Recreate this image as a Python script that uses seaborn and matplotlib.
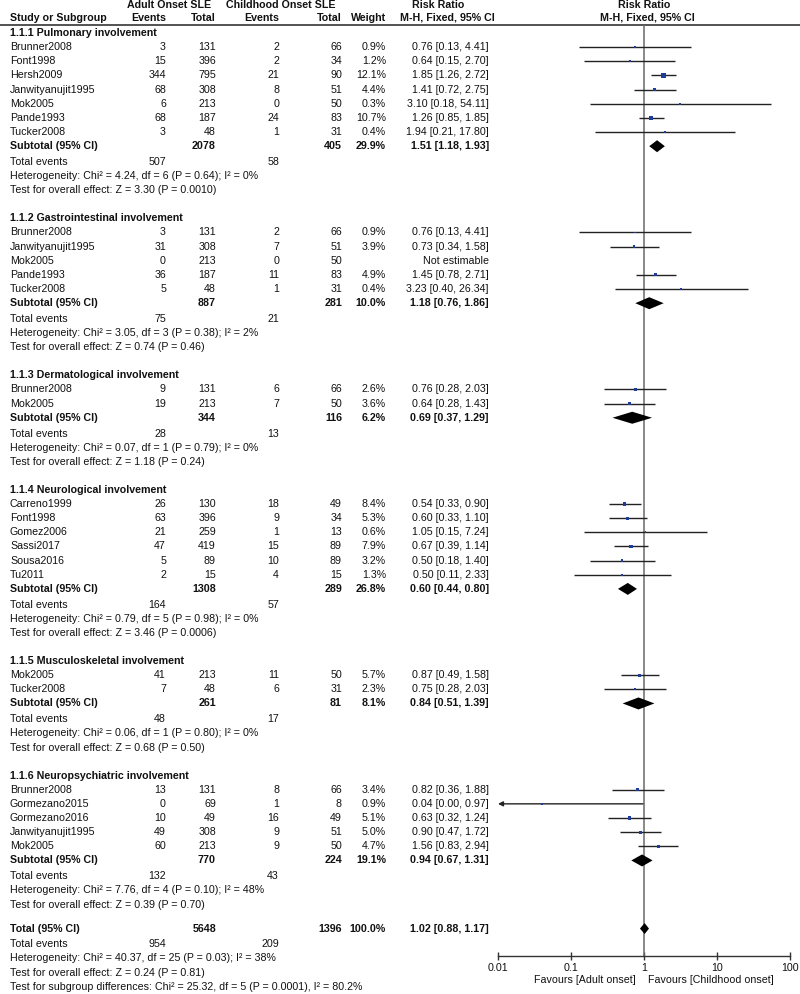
import numpy as np
import pandas as pd
import matplotlib
matplotlib.use("Agg")
import matplotlib.pyplot as plt
import seaborn as sns

# ---------------- data ----------------
group_titles = [
    "1.1.1 Pulmonary involvement",
    "1.1.2 Gastrointestinal involvement",
    "1.1.3 Dermatological involvement",
    "1.1.4 Neurological involvement",
    "1.1.5 Musculoskeletal involvement",
    "1.1.6 Neuropsychiatric involvement",
]
group_studies = [
    ["Brunner2008", "Font1998", "Hersh2009", "Janwityanujit1995", "Mok2005", "Pande1993", "Tucker2008"],
    ["Brunner2008", "Janwityanujit1995", "Mok2005", "Pande1993", "Tucker2008"],
    ["Brunner2008", "Mok2005"],
    ["Carreno1999", "Font1998", "Gomez2006", "Sassi2017", "Sousa2016", "Tu2011"],
    ["Mok2005", "Tucker2008"],
    ["Brunner2008", "Gormezano2015", "Gormezano2016", "Janwityanujit1995", "Mok2005"],
]
group_ev_adult = [[3, 15, 344, 68, 6, 68, 3], [3, 31, 0, 36, 5], [9, 19],
                  [26, 63, 21, 47, 5, 2], [41, 7], [13, 0, 10, 49, 60]]
group_tot_adult = [[131, 396, 795, 308, 213, 187, 48], [131, 308, 213, 187, 48], [131, 213],
                   [130, 396, 259, 419, 89, 15], [213, 48], [131, 69, 49, 308, 213]]
group_ev_child = [[2, 2, 21, 8, 0, 24, 1], [2, 7, 0, 11, 1], [6, 7],
                  [18, 9, 1, 15, 10, 4], [11, 6], [8, 1, 16, 9, 9]]
group_tot_child = [[66, 34, 90, 51, 50, 83, 31], [66, 51, 50, 83, 31], [66, 50],
                   [49, 34, 13, 89, 89, 15], [50, 31], [66, 8, 49, 51, 50]]
group_weight = [[0.9, 1.2, 12.1, 4.4, 0.3, 10.7, 0.4], [0.9, 3.9, np.nan, 4.9, 0.4], [2.6, 3.6],
                [8.4, 5.3, 0.6, 7.9, 3.2, 1.3], [5.7, 2.3], [3.4, 0.9, 5.1, 5.0, 4.7]]
group_rr = [[0.76, 0.64, 1.85, 1.41, 3.10, 1.26, 1.94], [0.76, 0.73, np.nan, 1.45, 3.23], [0.76, 0.64],
            [0.54, 0.60, 1.05, 0.67, 0.50, 0.50], [0.87, 0.75], [0.82, 0.04, 0.63, 0.90, 1.56]]
group_lo = [[0.13, 0.15, 1.26, 0.72, 0.18, 0.85, 0.21], [0.13, 0.34, np.nan, 0.78, 0.40], [0.28, 0.28],
            [0.33, 0.33, 0.15, 0.39, 0.18, 0.11], [0.49, 0.28], [0.36, 0.00, 0.32, 0.47, 0.83]]
group_hi = [[4.41, 2.70, 2.72, 2.75, 54.11, 1.85, 17.80], [4.41, 1.58, np.nan, 2.71, 26.34], [2.03, 1.43],
            [0.90, 1.10, 7.24, 1.14, 1.40, 2.33], [1.58, 2.03], [1.88, 0.97, 1.24, 1.72, 2.94]]

sub_tot_adult = [2078, 887, 344, 1308, 261, 770]
sub_tot_child = [405, 281, 116, 289, 81, 224]
sub_weight = [29.9, 10.0, 6.2, 26.8, 8.1, 19.1]
sub_rr = [1.51, 1.18, 0.69, 0.60, 0.84, 0.94]
sub_lo = [1.18, 0.76, 0.37, 0.44, 0.51, 0.67]
sub_hi = [1.93, 1.86, 1.29, 0.80, 1.39, 1.31]
sub_ev_adult = [507, 75, 28, 164, 48, 132]
sub_ev_child = [58, 21, 13, 57, 17, 43]
sub_het = [
    "Heterogeneity: Chi² = 4.24, df = 6 (P = 0.64); I² = 0%",
    "Heterogeneity: Chi² = 3.05, df = 3 (P = 0.38); I² = 2%",
    "Heterogeneity: Chi² = 0.07, df = 1 (P = 0.79); I² = 0%",
    "Heterogeneity: Chi² = 0.79, df = 5 (P = 0.98); I² = 0%",
    "Heterogeneity: Chi² = 0.06, df = 1 (P = 0.80); I² = 0%",
    "Heterogeneity: Chi² = 7.76, df = 4 (P = 0.10); I² = 48%",
]
sub_test = [
    "Test for overall effect: Z = 3.30 (P = 0.0010)",
    "Test for overall effect: Z = 0.74 (P = 0.46)",
    "Test for overall effect: Z = 1.18 (P = 0.24)",
    "Test for overall effect: Z = 3.46 (P = 0.0006)",
    "Test for overall effect: Z = 0.68 (P = 0.50)",
    "Test for overall effect: Z = 0.39 (P = 0.70)",
]
total_tot_adult = 5648
total_tot_child = 1396
total_weight = 100.0
total_rr, total_lo, total_hi = 1.02, 0.88, 1.17
total_ev_adult = 954
total_ev_child = 209
total_lines = [
    "Heterogeneity: Chi² = 40.37, df = 25 (P = 0.03); I² = 38%",
    "Test for overall effect: Z = 0.24 (P = 0.81)",
    "Test for subgroup differences: Chi² = 25.32, df = 5 (P = 0.0001), I² = 80.2%",
]
tick_values = [0.01, 0.1, 1, 10, 100]
tick_labels = ["0.01", "0.1", "1", "10", "100"]

# ---------------- style ----------------
sns.set_theme(style="white")
plt.rcParams["font.family"] = ["Liberation Sans", "DejaVu Sans"]
FS = 7.7
TXT = "#111111"

W, H = 800, 994
fig = plt.figure(figsize=(8, 9.94), dpi=100)
tax = fig.add_axes([0, 0, 1, 1])
tax.set_xlim(0, W)
tax.set_ylim(H, 0)
tax.axis("off")

# forest axes aligned to pixel rows
FX0, FX1 = 498, 790
FY0, FY1 = 25, 956
fax = fig.add_axes([FX0 / W, 1 - FY1 / H, (FX1 - FX0) / W, (FY1 - FY0) / H])
fax.set_xscale("log")
fax.set_xlim(tick_values[0], tick_values[-1])
fax.set_ylim(FY1, FY0)
fax.patch.set_alpha(0)

# columns
X_NAME, X_EA, X_TA, X_EC, X_TC, X_W, X_RR = 10, 166, 216, 279, 342, 386, 489


def t(x, y, s, ha="left", bold=False, **kw):
    tax.text(x, y, s, ha=ha, va="center", fontsize=FS, color=TXT,
             fontweight="bold" if bold else "normal", **kw)


# header
t(169, 5, "Adult Onset SLE", ha="center", bold=True)
t(281, 5, "Childhood Onset SLE", ha="center", bold=True)
t(438, 5, "Risk Ratio", ha="center", bold=True)
t(644, 5, "Risk Ratio", ha="center", bold=True)
t(X_NAME, 18, "Study or Subgroup", bold=True)
t(X_EA, 18, "Events", ha="right", bold=True)
t(X_TA, 18, "Total", ha="right", bold=True)
t(X_EC, 18, "Events", ha="right", bold=True)
t(X_TC, 18, "Total", ha="right", bold=True)
t(X_W, 18, "Weight", ha="right", bold=True)
t(447, 18, "M-H, Fixed, 95% CI", ha="center", bold=True)
t(647, 18, "M-H, Fixed, 95% CI", ha="center", bold=True)
tax.plot([0, W], [25, 25], color="#444444", lw=1.3, solid_capstyle="butt")

STEP = 14.15


def rr_text(r, lo, hi):
    if np.isnan(r):
        return "Not estimable"
    return f"{r:.2f} [{lo:.2f}, {hi:.2f}]"


study_rows = []
sub_rows = []
y = 33.0
for g in range(len(group_titles)):
    t(X_NAME, y, group_titles[g], bold=True)
    for i, name in enumerate(group_studies[g]):
        y += STEP
        t(X_NAME, y, name)
        t(X_EA, y, str(group_ev_adult[g][i]), ha="right")
        t(X_TA, y, str(group_tot_adult[g][i]), ha="right")
        t(X_EC, y, str(group_ev_child[g][i]), ha="right")
        t(X_TC, y, str(group_tot_child[g][i]), ha="right")
        w = group_weight[g][i]
        if not np.isnan(w):
            t(X_W, y, f"{w:.1f}%", ha="right")
        t(X_RR, y, rr_text(group_rr[g][i], group_lo[g][i], group_hi[g][i]), ha="right")
        study_rows.append(dict(y=y, rr=group_rr[g][i], lo=group_lo[g][i],
                               hi=group_hi[g][i], weight=w))
    y += STEP
    t(X_NAME, y, "Subtotal (95% CI)", bold=True)
    t(X_TA, y, str(sub_tot_adult[g]), ha="right", bold=True)
    t(X_TC, y, str(sub_tot_child[g]), ha="right", bold=True)
    t(X_W, y, f"{sub_weight[g]:.1f}%", ha="right", bold=True)
    t(X_RR, y, rr_text(sub_rr[g], sub_lo[g], sub_hi[g]), ha="right", bold=True)
    sub_rows.append(dict(y=y, rr=sub_rr[g], lo=sub_lo[g], hi=sub_hi[g], h=6.0))
    y += 15.8
    t(X_NAME, y, "Total events")
    t(X_EA, y, str(sub_ev_adult[g]), ha="right")
    t(X_EC, y, str(sub_ev_child[g]), ha="right")
    y += STEP
    t(X_NAME, y, sub_het[g])
    y += STEP
    t(X_NAME, y, sub_test[g])
    if g < len(group_titles) - 1:
        y += 28.0

# overall
y += 24.0
t(X_NAME, y, "Total (95% CI)", bold=True)
t(X_TA, y, str(total_tot_adult), ha="right", bold=True)
t(X_TC, y, str(total_tot_child), ha="right", bold=True)
t(X_W, y, f"{total_weight:.1f}%", ha="right", bold=True)
t(X_RR, y, rr_text(total_rr, total_lo, total_hi), ha="right", bold=True)
sub_rows.append(dict(y=y, rr=total_rr, lo=total_lo, hi=total_hi, h=5.5))
y += 15.8
t(X_NAME, y, "Total events")
t(X_EA, y, str(total_ev_adult), ha="right")
t(X_EC, y, str(total_ev_child), ha="right")
for line in total_lines:
    y += STEP
    t(X_NAME, y, line)

# ---------------- forest ----------------
fax.axvline(1, color="#6a6a6a", lw=1.1, zorder=1)

sdf = pd.DataFrame(study_rows).dropna(subset=["rr"])
xmin = tick_values[0]
for _, r in sdf.iterrows():
    if r["lo"] < xmin:
        fax.annotate("", xy=(xmin, r["y"]), xytext=(r["hi"], r["y"]),
                     arrowprops=dict(arrowstyle="-|>", lw=1.0, color="#222222",
                                     mutation_scale=7, shrinkA=0, shrinkB=0),
                     zorder=2)
    else:
        fax.hlines(r["y"], r["lo"], r["hi"], color="#222222", lw=1.0, zorder=2)

sns.scatterplot(data=sdf, x="rr", y="y", size="weight", sizes=(1.2, 10),
                size_norm=(0, 12.1), marker="s", color="#1f3c99",
                linewidth=0, legend=False, ax=fax, zorder=3)

for d in sub_rows:
    xs = [d["lo"], d["rr"], d["hi"], d["rr"]]
    ys = [d["y"], d["y"] - d["h"], d["y"], d["y"] + d["h"]]
    fax.fill(xs, ys, color="black", lw=0, zorder=4)

fax.set_ylim(FY1, FY0)
fax.set_xlabel("")
fax.set_ylabel("")
for side in ["top", "left", "right"]:
    fax.spines[side].set_visible(False)
fax.spines["bottom"].set_color("#333333")
fax.spines["bottom"].set_linewidth(1.0)
fax.set_yticks([])
fax.set_xticks(tick_values)
fax.set_xticklabels(tick_labels)
fax.xaxis.set_minor_locator(matplotlib.ticker.NullLocator())
fax.tick_params(axis="x", direction="inout", length=6, width=1.0, color="#333333",
                labelsize=FS, labelcolor=TXT, pad=2, bottom=True)

t(636, 980, "Favours [Adult onset]", ha="right")
t(648, 980, "Favours [Childhood onset]", ha="left")

fig.savefig("out.png", dpi=100)
